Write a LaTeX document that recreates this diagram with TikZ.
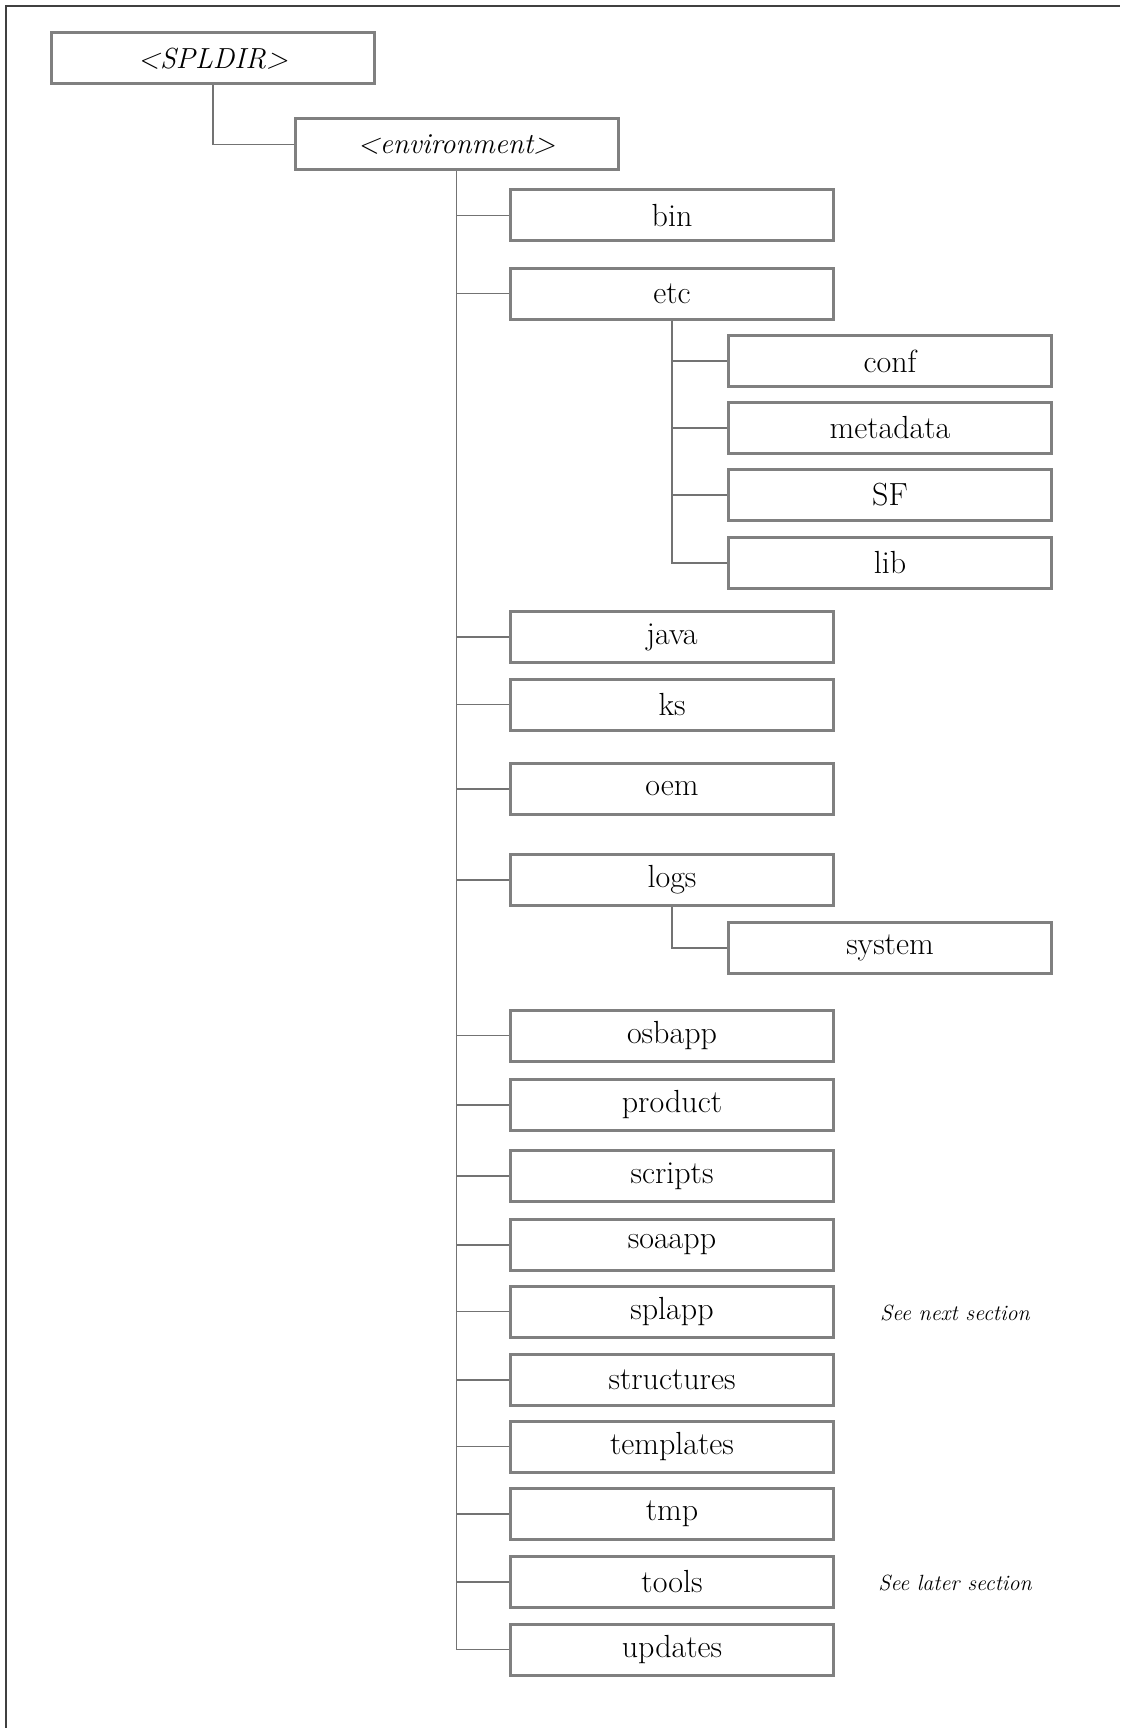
\documentclass[tikz,border=0pt]{standalone}
\usepackage{fontspec}
\usepackage{tikz}
\usetikzlibrary{positioning}
\tikzstyle{dirbox}=[draw=black!50, shape=rectangle, line width=3pt, fill=white, minimum width=323pt, minimum height=51pt, inner sep=0pt, font=\fontsize{32}{36}\selectfont]
\tikzstyle{topbox}=[dirbox, font=\fontsize{29}{34}\selectfont\itshape]
\tikzstyle{branch}=[draw=black!55, line width=1.6pt]
\tikzstyle{note}=[inner sep=0pt, font=\fontsize{22}{26}\selectfont\itshape]

\begin{document}
\begin{tikzpicture}[x=1pt, y=-1pt]
\useasboundingbox (0,0) rectangle (1120,1728);
% the frame
\draw[line width=2pt, black!75] (6,1728) -- (6,6) -- (1120,6);
% the top two levels
\node[topbox] (spldir) at (213, 58.5) {<SPLDIR>};
\node[topbox] (env) at (456.5, 144.5) {<environment>};
% the subfolders of the environment
\node[dirbox] (bin) at (672, 215.5) {bin};
\node[dirbox] (etc) at (672, 293.5) {etc};
\node[dirbox] (java) at (672, 637) {java};
\node[dirbox] (ks) at (672, 704.5) {ks};
\node[dirbox] (oem) at (672, 789) {oem};
\node[dirbox] (logs) at (672, 880) {logs};
\node[dirbox] (osbapp) at (672, 1035.5) {osbapp};
\node[dirbox] (product) at (672, 1105) {product};
\node[dirbox] (scripts) at (672, 1176) {scripts};
\node[dirbox] (soaapp) at (672, 1245) {soaapp};
\node[dirbox] (splapp) at (672, 1311.5) {splapp};
\node[dirbox] (structures) at (672, 1380) {structures};
\node[dirbox] (templates) at (672, 1446.5) {templates};
\node[dirbox] (tmp) at (672, 1514) {tmp};
\node[dirbox] (tools) at (672, 1582) {tools};
\node[dirbox] (updates) at (672, 1649.5) {updates};
% the subfolders of etc and logs
\node[dirbox] (conf) at (890, 361) {conf};
\node[dirbox] (metadata) at (890, 428) {metadata};
\node[dirbox] (SF) at (890, 495) {SF};
\node[dirbox] (lib) at (890, 563) {lib};
\node[dirbox] (system) at (890, 948) {system};
% the notes
\node[note] (nextnote) at (955, 1313) {See next section};
\node[note] (laternote) at (955, 1583) {See later section};
%
% the branches
\draw[branch] (spldir.south) |- (env.west);
\draw[branch] (env.south) |- (bin.west);
\draw[branch] (env.south) |- (etc.west);
\draw[branch] (env.south) |- (java.west);
\draw[branch] (env.south) |- (ks.west);
\draw[branch] (env.south) |- (oem.west);
\draw[branch] (env.south) |- (logs.west);
\draw[branch] (env.south) |- (osbapp.west);
\draw[branch] (env.south) |- (product.west);
\draw[branch] (env.south) |- (scripts.west);
\draw[branch] (env.south) |- (soaapp.west);
\draw[branch] (env.south) |- (splapp.west);
\draw[branch] (env.south) |- (structures.west);
\draw[branch] (env.south) |- (templates.west);
\draw[branch] (env.south) |- (tmp.west);
\draw[branch] (env.south) |- (tools.west);
\draw[branch] (env.south) |- (updates.west);
\draw[branch] (etc.south) |- (conf.west);
\draw[branch] (etc.south) |- (metadata.west);
\draw[branch] (etc.south) |- (SF.west);
\draw[branch] (etc.south) |- (lib.west);
\draw[branch] (logs.south) |- (system.west);
\end{tikzpicture}
\end{document}
